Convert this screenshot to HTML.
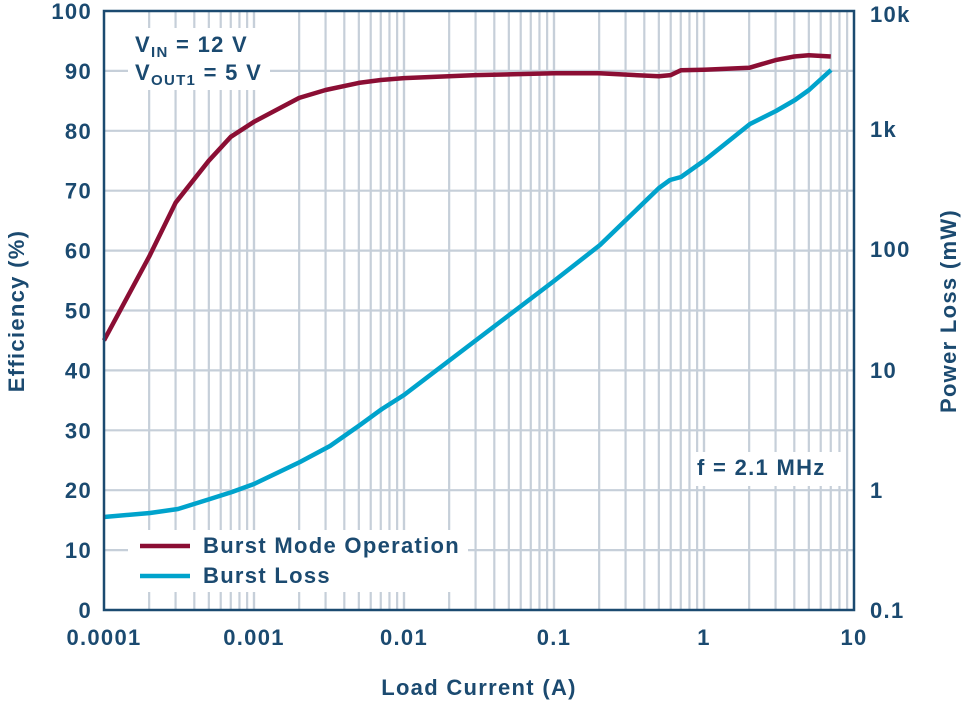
<!DOCTYPE html>
<html><head><meta charset="utf-8"><style>
body{margin:0;background:#fff}
svg text{font-family:"Liberation Sans",Arial,sans-serif;font-weight:bold;fill:#1b4a70;letter-spacing:1.3px}
</style></head><body>
<svg width="965" height="705" viewBox="0 0 965 705" xmlns="http://www.w3.org/2000/svg">
<g id="grid" stroke="#c6cfd9" stroke-width="2.2"></g>
<rect x="128" y="28" width="142" height="62" fill="#fff"/>
<rect x="692" y="452" width="150" height="34" fill="#fff"/>
<rect x="128" y="530" width="340" height="62" fill="#fff"/>
<polyline fill="none" stroke="#00a3cc" stroke-width="4.5" stroke-linejoin="round" points="104,517 150,513 178,509 210,499 232,492 254,484 300,462 330,446 360,425 382,409 404,395 450,360 500,322 554,281 600,245 659,188 670,180 681,177 705,160 750,124 776,111 795,100 809,90 831,70"/>
<polyline fill="none" stroke="#8b0e34" stroke-width="4.5" stroke-linejoin="round" points="104,340.4 149.2,256.6 175.6,202.7 208.8,160.7 230.8,136.8 254,121.8 299.2,97.9 325.6,90 358.8,82.9 380.8,80 404,78.1 475.6,75.1 554,73.3 599.2,73.3 658.8,76.3 670.7,75.1 680.8,70.3 704,69.7 749.2,67.8 775.6,60.1 794.3,56.5 808.8,55.3 830.8,56.5"/>
<rect x="104" y="11" width="750" height="599" fill="none" stroke="#1b4a70" stroke-width="2.5"/>
<g font-size="22" text-anchor="end" id="ly"></g>
<g font-size="22" text-anchor="start" id="ry">
<text x="870" y="22">10k</text><text x="870" y="137">1k</text><text x="870" y="257">100</text><text x="870" y="378">10</text><text x="870" y="498">1</text><text x="870" y="618">0.1</text></g>
<g font-size="22" text-anchor="middle">
<text x="104" y="645">0.0001</text><text x="254" y="645">0.001</text><text x="404" y="645">0.01</text><text x="554" y="645">0.1</text><text x="704" y="645">1</text><text x="854" y="645">10</text>
<text x="479" y="695">Load Current (A)</text></g>
<text font-size="22" transform="translate(24,311) rotate(-90)" text-anchor="middle">Efficiency (%)</text>
<text font-size="22" transform="translate(956,311) rotate(-90)" text-anchor="middle">Power Loss (mW)</text>
<text x="135" y="52" font-size="22">V<tspan font-size="15" dy="5">IN</tspan><tspan dy="-5"> = 12 V</tspan></text>
<text x="135" y="80" font-size="22">V<tspan font-size="15" dy="5">OUT1</tspan><tspan dy="-5"> = 5 V</tspan></text>
<text x="697" y="475" font-size="22">f = 2.1 MHz</text>
<line x1="140" y1="546" x2="190" y2="546" stroke="#8b0e34" stroke-width="4.5"/>
<line x1="140" y1="576" x2="190" y2="576" stroke="#00a3cc" stroke-width="4.5"/>
<text x="203" y="553" font-size="22">Burst Mode Operation</text>
<text x="203" y="583" font-size="22">Burst Loss</text>
</svg>
<script>
var g=document.getElementById('grid'),s='';
for(var d=0;d<5;d++)for(var m=1;m<=10;m++){var x=104+150*(d+Math.log10(m));if(x>104&&x<854)s+='<line x1="'+x+'" y1="11" x2="'+x+'" y2="610"/>';}
for(var i=1;i<10;i++){var y=610-59.9*i;s+='<line x1="104" y1="'+y+'" x2="854" y2="'+y+'"/>';}
g.innerHTML=s;
var l='';for(var i=0;i<=10;i++){l+='<text x="92" y="'+(618-59.9*i)+'">'+(i*10)+'</text>';}
document.getElementById('ly').innerHTML=l;
</script>
</body></html>
